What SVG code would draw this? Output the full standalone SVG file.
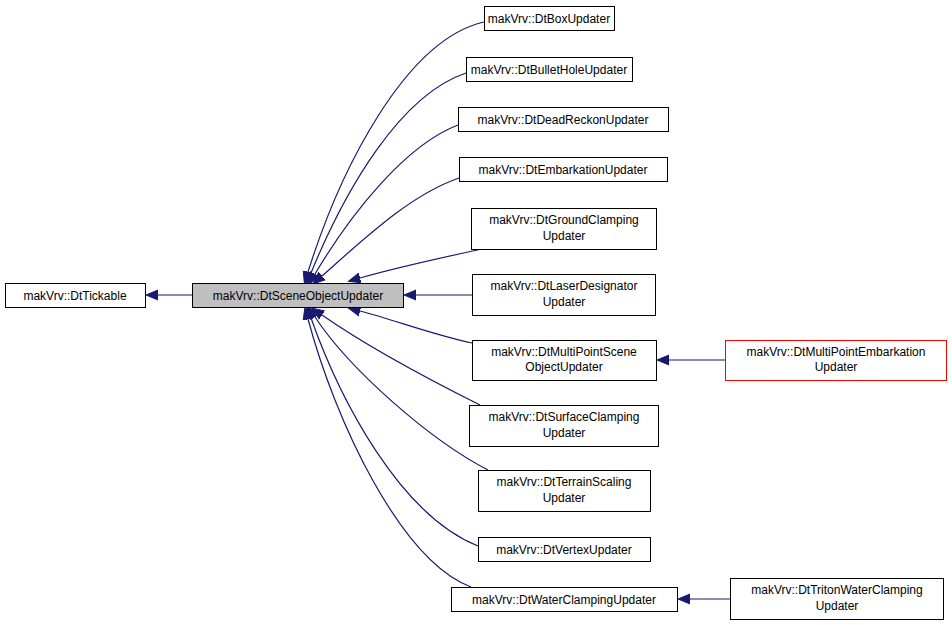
<svg xmlns="http://www.w3.org/2000/svg" width="952" height="625" viewBox="0 0 952 625">
<style>
.n rect{fill:#fff;stroke:#000;stroke-width:1}
.n text{font-family:"Liberation Sans",Arial,sans-serif;font-size:12px;text-anchor:middle;fill:#000}
.e path{fill:none;stroke:#191970;stroke-width:1.2}
</style>
<defs>
<marker id="a" markerUnits="userSpaceOnUse" markerWidth="14" markerHeight="12" refX="0" refY="5" orient="auto" viewBox="0 0 14 10"><path d="M0,0 L12,5 L0,10 Z" fill="#191970" stroke="#191970"/></marker>
</defs>
<rect width="952" height="625" fill="#fff"/>
<g class="e" id="edges">
<path marker-end="url(#a)" d="M192,295 L158,295"/>
<path marker-end="url(#a)" d="M484,22 C405,40 340,170 308,272"/>
<path marker-end="url(#a)" d="M466,73 C400,95 345,190 311,273"/>
<path marker-end="url(#a)" d="M458,125 C405,145 350,215 315,274"/>
<path marker-end="url(#a)" d="M459,178 C410,195 365,238 322,276"/>
<path marker-end="url(#a)" d="M482,249 C440,258 395,268 360,278"/>
<path marker-end="url(#a)" d="M472,295 L416,295"/>
<path marker-end="url(#a)" d="M472,343 C430,334 395,320 360,311"/>
<path marker-end="url(#a)" d="M480,405 C430,380 365,345 322,315"/>
<path marker-end="url(#a)" d="M488,470 C430,440 350,370 315,317"/>
<path marker-end="url(#a)" d="M478,546 C400,515 340,400 311,318"/>
<path marker-end="url(#a)" d="M471,587 C400,560 335,420 308,319"/>
<path marker-end="url(#a)" d="M725,360 L669,360"/>
<path marker-end="url(#a)" d="M730,599 L690,599"/>
</g>
<g class="n" id="tickable"><rect x="5.5" y="283.5" width="140" height="24"/><text x="75" y="300">makVrv::DtTickable</text></g>
<g class="n" id="scene"><rect x="192.5" y="283.5" width="211" height="24" style="fill:#bfbfbf"/><text x="298" y="300">makVrv::DtSceneObjectUpdater</text></g>
<g class="n" id="box"><rect x="484.5" y="6.5" width="130" height="24"/><text x="549" y="23">makVrv::DtBoxUpdater</text></g>
<g class="n" id="bullet"><rect x="466.5" y="57.5" width="166" height="24"/><text x="549" y="74">makVrv::DtBulletHoleUpdater</text></g>
<g class="n" id="dead"><rect x="458.5" y="107.5" width="210" height="24"/><text x="563" y="124">makVrv::DtDeadReckonUpdater</text></g>
<g class="n" id="emb"><rect x="459.5" y="157.5" width="208" height="24"/><text x="563" y="174">makVrv::DtEmbarkationUpdater</text></g>
<g class="n" id="ground"><rect x="471.5" y="208.5" width="185" height="41"/><text x="564" y="224">makVrv::DtGroundClamping</text><text x="564" y="240">Updater</text></g>
<g class="n" id="laser"><rect x="472.5" y="274.5" width="183" height="41"/><text x="564" y="290">makVrv::DtLaserDesignator</text><text x="564" y="306">Updater</text></g>
<g class="n" id="multi"><rect x="472.5" y="340.5" width="184" height="40"/><text x="564" y="356">makVrv::DtMultiPointScene</text><text x="564" y="371">ObjectUpdater</text></g>
<g class="n" id="surface"><rect x="469.5" y="405.5" width="189" height="41"/><text x="564" y="421">makVrv::DtSurfaceClamping</text><text x="564" y="437">Updater</text></g>
<g class="n" id="terrain"><rect x="478.5" y="470.5" width="172" height="41"/><text x="564" y="486">makVrv::DtTerrainScaling</text><text x="564" y="502">Updater</text></g>
<g class="n" id="vertex"><rect x="478.5" y="537.5" width="172" height="24"/><text x="564" y="554">makVrv::DtVertexUpdater</text></g>
<g class="n" id="water"><rect x="451.5" y="587.5" width="226" height="24"/><text x="564" y="604">makVrv::DtWaterClampingUpdater</text></g>
<g class="n" id="mpe"><rect x="725.5" y="340.5" width="221" height="40" style="stroke:#ff0000"/><text x="836" y="356">makVrv::DtMultiPointEmbarkation</text><text x="836" y="371">Updater</text></g>
<g class="n" id="triton"><rect x="730.5" y="578.5" width="213" height="41"/><text x="837" y="594">makVrv::DtTritonWaterClamping</text><text x="837" y="610">Updater</text></g>
</svg>
